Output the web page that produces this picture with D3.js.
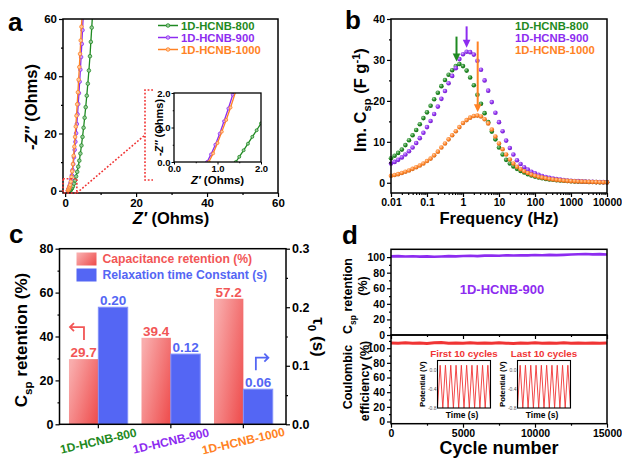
<!DOCTYPE html>
<html>
<head>
<meta charset="utf-8">
<script src="https://cdnjs.cloudflare.com/ajax/libs/d3/7.8.5/d3.min.js"></script>
<style>
    html, body { margin: 0; padding: 0; background: #fff; }
    svg { display: block; }
</style>
</head>
<body>
<svg id="fig" width="622" height="462"></svg>
<script>
    "use strict";
    var FONT = '"Liberation Sans", Arial, Helvetica, sans-serif';

    // ---------- data ----------
    var samples = ["1D-HCNB-800", "1D-HCNB-900", "1D-HCNB-1000"];
    var sampleColors = ["#1f8a22", "#8d2cf0", "#ff8224"];

    // (a) Nyquist: [Z', -Z'']
    var nyq800 = [[1.42, 0], [1.5, 0.15], [1.6, 0.34], [1.7, 0.53], [1.8, 0.73], [1.9, 0.92], [2.0, 1.12], [2.2, 1.6],
        [2.5, 2.5], [2.8, 3.6], [3.1, 5.0], [3.4, 6.6], [3.7, 8.4], [4.0, 10.5], [4.3, 13.0], [4.6, 15.8], [4.9, 18.8],
        [5.2, 22.0], [5.5, 25.5], [5.8, 29.2], [6.1, 33.2], [6.4, 37.4], [6.7, 42.0], [7.0, 47.0], [7.25, 52.0],
        [7.5, 57.0], [7.75, 62.0]];
    var nyq900 = [[0.76, 0], [0.85, 0.22], [0.95, 0.5], [1.05, 0.82], [1.15, 1.18], [1.25, 1.55], [1.35, 1.95], [1.5, 2.7],
        [1.7, 3.9], [1.9, 5.4], [2.1, 7.2], [2.3, 9.3], [2.5, 11.7], [2.7, 14.3], [2.9, 17.1], [3.1, 20.1], [3.3, 23.3],
        [3.5, 26.7], [3.7, 30.3], [3.9, 34.1], [4.1, 38.1], [4.3, 42.3], [4.5, 46.7], [4.7, 51.3], [4.9, 56.1], [5.1, 61.0]];
    var nyq1000 = [[0.8, 0], [0.9, 0.25], [1.0, 0.55], [1.1, 0.88], [1.2, 1.22], [1.3, 1.58], [1.42, 2.05], [1.6, 3.2],
        [1.8, 4.8], [2.0, 6.8], [2.2, 9.3], [2.4, 12.2], [2.6, 15.4], [2.8, 18.8], [3.0, 22.4], [3.2, 26.2], [3.4, 30.2],
        [3.6, 34.4], [3.8, 38.8], [4.0, 43.2], [4.2, 47.8], [4.4, 52.5], [4.6, 57.3], [4.8, 62.0]];

    // (b) imaginary capacitance vs frequency
    var freq = [0.01, 0.0126, 0.0158, 0.02, 0.0251, 0.0316, 0.0398, 0.0501, 0.0631, 0.0794,
        0.1, 0.126, 0.158, 0.2, 0.251, 0.316, 0.398, 0.501, 0.631, 0.794,
        1, 1.26, 1.58, 2, 2.51, 3.16, 3.98, 5.01, 6.31, 7.94,
        10, 12.6, 15.8, 20, 25.1, 31.6, 39.8, 50.1, 63.1, 79.4,
        100, 126, 158, 200, 251, 316, 398, 501, 631, 794,
        1000, 1260, 1580, 2000, 2510, 3160, 3980, 5010, 6310, 7940, 10000];
    var imC800 = [6.0, 6.6, 7.3, 8.1, 9.2, 10.4, 11.6, 12.9, 14.3, 15.8,
        17.2, 18.8, 20.4, 22.0, 23.6, 25.1, 26.4, 27.5, 28.5, 29.0,
        28.5, 27.4, 25.7, 23.8, 21.5, 19.3, 17.0, 14.8, 12.5, 10.6,
        8.6, 6.9, 5.6, 4.7, 4.0, 3.4, 2.9, 2.5, 2.1, 1.8,
        1.5, 1.3, 1.1, 0.95, 0.82, 0.72, 0.63, 0.55, 0.48, 0.42,
        0.37, 0.33, 0.29, 0.26, 0.23, 0.2, 0.18, 0.16, 0.14, 0.12, 0.1];
    var imC900 = [4.7, 5.1, 5.6, 6.2, 6.9, 7.7, 8.6, 9.7, 10.9, 12.2,
        13.6, 15.1, 16.8, 18.6, 20.5, 22.4, 24.3, 26.1, 28.0, 30.2,
        31.4, 32.0, 31.9, 31.3, 29.8, 27.6, 25.0, 22.5, 19.7, 17.1,
        14.8, 12.6, 10.3, 8.5, 6.9, 5.5, 4.6, 3.8, 3.2, 2.7,
        2.3, 1.95, 1.65, 1.4, 1.2, 1.02, 0.88, 0.76, 0.66, 0.57,
        0.5, 0.44, 0.39, 0.34, 0.3, 0.26, 0.23, 0.2, 0.17, 0.15, 0.12];
    var imC1000 = [1.7, 1.9, 2.1, 2.4, 2.7, 3.0, 3.4, 3.8, 4.2, 4.7,
        5.3, 5.9, 6.7, 7.6, 8.6, 9.6, 10.6, 11.6, 12.6, 13.6,
        14.6, 15.3, 15.9, 16.3, 16.4, 16.2, 15.5, 14.5, 13.0, 11.3,
        9.6, 8.2, 6.9, 5.7, 4.7, 3.9, 3.3, 2.8, 2.4, 2.0,
        1.7, 1.45, 1.25, 1.08, 0.93, 0.8, 0.7, 0.61, 0.53, 0.46,
        0.4, 0.35, 0.31, 0.27, 0.24, 0.21, 0.18, 0.16, 0.14, 0.12, 0.1];
    // arrows marking the peaks: frequency, tail value, tip value
    var peakFreq = [0.66, 1.26, 2.56];
    var arrowTail = [35.7, 38.2, 34.5];
    var arrowTip = [29.6, 33.0, 17.2];

    // (c) bars
    var retention = [29.7, 39.4, 57.2];
    var relaxTime = [0.20, 0.12, 0.06];

    // (d) cycling of 1D-HCNB-900
    var cycles = [0, 500, 1000, 1500, 2000, 2500, 3000, 3500, 4000, 4500, 5000, 5500, 6000, 6500, 7000, 7500,
        8000, 8500, 9000, 9500, 10000, 10500, 11000, 11500, 12000, 12500, 13000, 13500, 14000, 14500, 15000];
    var cspRetention = [100.9, 101.3, 100.8, 101.1, 100.6, 100.9, 100.5, 100.8, 101.2, 100.9, 101.4, 101.7, 101.3,
        101.9, 102.1, 101.8, 102.3, 102.0, 102.4, 102.2, 102.6, 102.3, 102.8, 102.5, 102.9, 103.3, 103.6, 103.9,
        103.5, 103.8, 103.4];
    var coulombic = [107.2, 106.6, 107.4, 106.8, 107.1, 106.5, 107.3, 107.8, 106.9, 107.2, 106.7, 107.4, 106.9,
        107.1, 106.6, 107.3, 106.8, 106.4, 107.2, 106.9, 107.3, 106.7, 107.1, 106.8, 107.4, 106.9, 107.2, 106.6,
        107.0, 106.8, 107.1];
    // galvanostatic insets: time (cycle units) vs potential (V)
    var cvTime = [0, 0.5, 1, 1.5, 2, 2.5, 3, 3.5, 4, 4.5, 5, 5.5, 6, 6.5, 7, 7.5, 8, 8.5, 9, 9.5, 10];
    var cvPotential = [-0.8, 0.1, -0.8, 0.1, -0.8, 0.1, -0.8, 0.1, -0.8, 0.1, -0.8, 0.1, -0.8, 0.1, -0.8, 0.1,
        -0.8, 0.1, -0.8, 0.1, -0.8];

    // ---------- helpers ----------
    var svg = d3.select("#fig").attr("font-family", FONT).attr("font-weight", "bold");
    svg.append("rect").attr("width", 622).attr("height", 462).attr("fill", "#fff");
    var defs = svg.append("defs");

    function box(g, x0, y0, x1, y1, w, fill) {
        g.append("rect").attr("x", x0).attr("y", y0).attr("width", x1 - x0).attr("height", y1 - y0)
            .attr("fill", fill || "none").attr("stroke", "#000").attr("stroke-width", w || 1.5);
    }

    function clip(id, x0, y0, x1, y1) {
        defs.append("clipPath").attr("id", id).append("rect")
            .attr("x", x0).attr("y", y0).attr("width", x1 - x0).attr("height", y1 - y0);
    }

    // major ticks with labels + short minor ticks
    function axis(g, orient, scale, pos, major, minor, opt) {
        var make = {bottom: d3.axisBottom, left: d3.axisLeft, right: d3.axisRight}[orient];
        var tr = orient === "bottom" ? "translate(0," + pos + ")" : "translate(" + pos + ",0)";
        var size = opt.size || 4;
        var a = make(scale).tickSize(size).tickPadding(opt.pad || 2);
        if (major) a.tickValues(major);
        if (opt.fmt !== undefined) a.tickFormat(opt.fmt);
        var ga = g.append("g").attr("transform", tr).call(a)
            .attr("font-size", opt.font || 11).attr("font-family", FONT).attr("font-weight", "bold");
        ga.select(".domain").remove();
        ga.selectAll("line").attr("stroke", "#000").attr("stroke-width", opt.tw || 1.2);
        if (minor) {
            var gm = g.append("g").attr("transform", tr)
                .call(make(scale).tickValues(minor).tickSize(size / 2).tickFormat(""));
            gm.select(".domain").remove();
            gm.selectAll("line").attr("stroke", "#000").attr("stroke-width", opt.tw || 1.2);
        }
        return ga;
    }

    function letter(t, x, y) {
        svg.append("text").attr("x", x).attr("y", y).attr("font-size", 26).text(t);
    }

    // text with sub/superscript parts: parts = [[text, "sub"|"sup"|null, italic], ...]
    function richText(g, parts, size) {
        var t = g.append("text").attr("font-size", size).attr("text-anchor", "middle");
        var shift = 0;
        parts.forEach(function (p) {
            var s = t.append("tspan").text(p[0]);
            var want = p[1] === "sub" ? size * 0.3 : p[1] === "sup" ? -size * 0.38 : 0;
            s.attr("dy", want - shift);
            shift = want;
            if (p[1]) s.attr("font-size", size * 0.68);
            if (p[2]) s.attr("font-style", "italic");
        });
        return t;
    }

    // ---------- panel a : Nyquist ----------
    var gA = svg.append("g");
    var xA = d3.scaleLinear().domain([-0.6, 60]).range([63, 278]);
    var yA = d3.scaleLinear().domain([-0.8, 60]).range([193, 19]);
    clip("clipA", 63, 19, 278, 193);
    var nyqSeries = [nyq800, nyq900, nyq1000];

    function drawNyq(g, pts, col, xs, ys, clipId, r) {
        var gg = g.append("g").attr("clip-path", "url(#" + clipId + ")");
        gg.append("path").datum(pts)
            .attr("d", d3.line().x(function (d) { return xs(d[0]); }).y(function (d) { return ys(d[1]); }))
            .attr("fill", "none").attr("stroke", col).attr("stroke-width", 1.3);
        gg.selectAll("circle").data(pts).enter().append("circle")
            .attr("cx", function (d) { return xs(d[0]); })
            .attr("cy", function (d) { return ys(d[1]); })
            .attr("r", r).attr("fill", d3.interpolateRgb(col, "#fff")(0.55))
            .attr("stroke", col).attr("stroke-width", 0.8);
    }

    nyqSeries.forEach(function (pts, i) { drawNyq(gA, pts, sampleColors[i], xA, yA, "clipA", 1.8); });
    axis(gA, "bottom", xA, 193, [0, 20, 40, 60], [10, 30, 50], {font: 11.5, pad: 2});
    axis(gA, "left", yA, 63, [0, 20, 40, 60], [10, 30, 50], {font: 11.5, pad: 2});
    box(gA, 63, 19, 278, 193);

    // zoom box and connector
    var insA = {l: 174, r: 261, t: 93, b: 162};
    var zoomBox = [[-0.6, 3.3], [-0.8, 4.2]];
    var red = "#f03434";
    var brX = insA.l - 29, brT = insA.t - 3, brB = insA.b + 18;
    gA.append("rect").attr("x", xA(zoomBox[0][0])).attr("y", yA(zoomBox[1][1]))
        .attr("width", xA(zoomBox[0][1]) - xA(zoomBox[0][0])).attr("height", yA(zoomBox[1][0]) - yA(zoomBox[1][1]))
        .attr("fill", "none").attr("stroke", red).attr("stroke-width", 1.6).attr("stroke-dasharray", "1.8,1.8");
    gA.append("path")
        .attr("d", "M" + xA(zoomBox[0][1]) + "," + yA(zoomBox[1][0]) + "L" + brX + "," + (brT + brB) / 2 +
            "M" + (brX + 8) + "," + brT + "H" + brX + "V" + brB + "H" + (brX + 8))
        .attr("fill", "none").attr("stroke", red).attr("stroke-width", 1.6).attr("stroke-dasharray", "1.8,1.8");

    // inset
    var xI = d3.scaleLinear().domain([0, 2]).range([insA.l, insA.r]);
    var yI = d3.scaleLinear().domain([0, 2]).range([insA.b, insA.t]);
    gA.append("rect").attr("x", insA.l).attr("y", insA.t).attr("width", insA.r - insA.l)
        .attr("height", insA.b - insA.t).attr("fill", "#fff");
    clip("clipI", insA.l, insA.t, insA.r, insA.b);
    nyqSeries.forEach(function (pts, i) { drawNyq(gA, pts, sampleColors[i], xI, yI, "clipI", 1.5); });
    axis(gA, "bottom", xI, insA.b, [0, 1, 2], [0.5, 1.5], {font: 9.5, size: 2.5, pad: 1, tw: 1});
    axis(gA, "left", yI, insA.l, [0, 1, 2], [0.5, 1.5], {font: 9.5, size: 2.5, pad: 1, tw: 1});
    box(gA, insA.l, insA.t, insA.r, insA.b, 1.3);
    richText(gA, [["-Z\u2033", null, true], [" (Ohms)", null]], 11)
        .attr("transform", "translate(163," + (insA.t + insA.b) / 2 + ") rotate(-90)");
    richText(gA, [["Z\u2032", null, true], [" (Ohms)", null]], 11.5)
        .attr("transform", "translate(" + (insA.l + insA.r) / 2 + ",184)");

    richText(gA, [["-Z\u2033", null, true], [" (Ohms)", null]], 16.5)
        .attr("transform", "translate(37,107) rotate(-90)");
    richText(gA, [["Z\u2032", null, true], [" (Ohms)", null]], 16.5)
        .attr("transform", "translate(171,224)");

    // legend a
    samples.forEach(function (s, i) {
        var y = 25.5 + i * 12;
        gA.append("line").attr("x1", 158).attr("x2", 178).attr("y1", y).attr("y2", y)
            .attr("stroke", sampleColors[i]).attr("stroke-width", 1.5);
        gA.append("circle").attr("cx", 168).attr("cy", y).attr("r", 1.8)
            .attr("fill", d3.interpolateRgb(sampleColors[i], "#fff")(0.55))
            .attr("stroke", sampleColors[i]).attr("stroke-width", 0.8);
        gA.append("text").attr("x", 181).attr("y", y + 4).attr("font-size", 11.3)
            .attr("fill", sampleColors[i]).text(s);
    });
    letter("a", 8, 31);

    // ---------- panel b : Im C vs frequency ----------
    var gB = svg.append("g");
    var xB = d3.scaleLog().domain([0.01, 10000]).range([391, 607]);
    var yB = d3.scaleLinear().domain([-2.5, 40]).range([193, 19]);
    var imSeries = [imC800, imC900, imC1000];

    sampleColors.forEach(function (c, i) {
        var gr = defs.append("radialGradient").attr("id", "ball" + i)
            .attr("cx", 0.38).attr("cy", 0.35).attr("r", 0.7);
        gr.append("stop").attr("offset", 0).attr("stop-color", d3.interpolateRgb(c, "#fff")(0.6));
        gr.append("stop").attr("offset", 0.55).attr("stop-color", c);
        gr.append("stop").attr("offset", 1).attr("stop-color", d3.color(c).darker(0.7));
    });

    imSeries.forEach(function (vals, i) {
        gB.append("g").selectAll("circle").data(vals).enter().append("circle")
            .attr("cx", function (d, k) { return xB(freq[k]); })
            .attr("cy", function (d) { return yB(d); })
            .attr("r", 2.3).attr("fill", "url(#ball" + i + ")");
    });

    var decades = [0.01, 0.1, 1, 10, 100, 1000, 10000];
    var minorB = [];
    decades.slice(0, -1).forEach(function (d) {
        for (var m = 2; m < 10; m++) minorB.push(d * m);
    });
    axis(gB, "bottom", xB, 193, decades, minorB, {font: 10.5, fmt: d3.format("~g"), pad: 2});
    axis(gB, "left", yB, 391, [0, 10, 20, 30, 40], [5, 15, 25, 35], {font: 10.5, pad: 2});
    box(gB, 391, 19, 607, 193);

    // peak arrows
    peakFreq.forEach(function (f, i) {
        var x = xB(f), y0 = yB(arrowTail[i]), y1 = yB(arrowTip[i]);
        gB.append("line").attr("x1", x).attr("x2", x).attr("y1", y0).attr("y2", y1 - 6)
            .attr("stroke", sampleColors[i]).attr("stroke-width", 2);
        gB.append("path").attr("d", "M" + (x - 3.8) + "," + (y1 - 8) + "L" + (x + 3.8) + "," + (y1 - 8) +
            "L" + x + "," + y1 + "Z").attr("fill", sampleColors[i]);
    });

    samples.forEach(function (s, i) {
        gB.append("text").attr("x", 515).attr("y", 29.5 + i * 12).attr("font-size", 11.3)
            .attr("fill", sampleColors[i]).text(s);
    });
    richText(gB, [["Im. C", null], ["sp", "sub"], [" (F g", null], ["-1", "sup"], [")", null]], 16.5)
        .attr("transform", "translate(366,100) rotate(-90)");
    gB.append("text").attr("x", 499).attr("y", 224).attr("text-anchor", "middle")
        .attr("font-size", 16.5).text("Frequency (Hz)");
    letter("b", 345, 29);

    // ---------- panel c : bars ----------
    var gC = svg.append("g");
    var cL = 59.5, cR = 286, cT = 248.7, cB = 424.3;
    var xC = d3.scaleBand().domain(samples).range([58.1, 283.6]).paddingInner(0.19).paddingOuter(0.15);
    var yL = d3.scaleLinear().domain([0, 80]).range([cB, cT]);
    var yR = d3.scaleLinear().domain([0, 0.3]).range([cB, cT]);
    var half = xC.bandwidth() / 2;
    var redC = "#f25656", blueC = "#5466f4";

    var rg = defs.append("linearGradient").attr("id", "redBar").attr("x1", 0).attr("y1", 0.2).attr("x2", 1).attr("y2", 0.8);
    rg.append("stop").attr("offset", 0).attr("stop-color", "#f9acac");
    rg.append("stop").attr("offset", 1).attr("stop-color", "#ef5252");

    gC.selectAll("rect.ret").data(retention).enter().append("rect").attr("class", "ret")
        .attr("x", function (d, i) { return xC(samples[i]); })
        .attr("y", function (d) { return yL(d); })
        .attr("width", half).attr("height", function (d) { return cB - yL(d); })
        .attr("fill", "url(#redBar)");
    gC.selectAll("rect.tau").data(relaxTime).enter().append("rect").attr("class", "tau")
        .attr("x", function (d, i) { return xC(samples[i]) + half; })
        .attr("y", function (d) { return yR(d); })
        .attr("width", half).attr("height", function (d) { return cB - yR(d); })
        .attr("fill", blueC).attr("stroke", "#8391fa").attr("stroke-width", 1);

    gC.selectAll("text.retv").data(retention).enter().append("text").attr("class", "retv")
        .attr("x", function (d, i) { return xC(samples[i]) + half / 2; })
        .attr("y", function (d) { return yL(d) - 2; })
        .attr("text-anchor", "middle").attr("font-size", 13.5).attr("fill", redC)
        .text(function (d) { return d.toFixed(1); });
    gC.selectAll("text.tauv").data(relaxTime).enter().append("text").attr("class", "tauv")
        .attr("x", function (d, i) { return xC(samples[i]) + half * 1.5; })
        .attr("y", function (d) { return yR(d) - 2; })
        .attr("text-anchor", "middle").attr("font-size", 13.5).attr("fill", blueC)
        .text(function (d) { return d.toFixed(2); });

    axis(gC, "left", yL, cL, [0, 20, 40, 60, 80], [10, 30, 50, 70], {font: 12.5, pad: 2});
    axis(gC, "right", yR, cR, [0, 0.1, 0.2, 0.3], [0.05, 0.15, 0.25], {font: 12.5, pad: 2, fmt: d3.format(".1f")});
    axis(gC, "bottom", xC, cB, null, null, {fmt: ""});
    box(gC, cL, cT, cR, cB);

    // axis pointers
    var r0x = xC(samples[0]), r0y = yL(retention[0]);
    gC.append("path").attr("d", "M" + (r0x + 15) + "," + (r0y - 19) + "V" + (r0y - 32) + "H" + (r0x + 1) +
        "M" + (r0x + 5) + "," + (r0y - 36) + "L" + (r0x + 1) + "," + (r0y - 32) + "L" + (r0x + 5) + "," + (r0y - 28))
        .attr("fill", "none").attr("stroke", redC).attr("stroke-width", 1.8);
    var b2x = xC(samples[2]) + half, b2y = yR(relaxTime[2]);
    gC.append("path").attr("d", "M" + (b2x + 12.5) + "," + (b2y - 19) + "V" + (b2y - 31.5) + "H" + (b2x + 25) +
        "M" + (b2x + 21) + "," + (b2y - 35.5) + "L" + (b2x + 25) + "," + (b2y - 31.5) + "L" + (b2x + 21) + "," + (b2y - 27.5))
        .attr("fill", "none").attr("stroke", blueC).attr("stroke-width", 1.8);

    // legend c
    gC.append("rect").attr("x", 76.5).attr("y", 252.5).attr("width", 20).attr("height", 13).attr("fill", "url(#redBar)");
    gC.append("rect").attr("x", 76.5).attr("y", 268.5).attr("width", 20).attr("height", 13).attr("fill", blueC);
    gC.append("text").attr("x", 102.5).attr("y", 263).attr("font-size", 12.2).attr("fill", redC)
        .text("Capacitance retention (%)");
    gC.append("text").attr("x", 102.5).attr("y", 279).attr("font-size", 12.2).attr("fill", blueC)
        .text("Relaxation time Constant (s)");

    samples.forEach(function (s, i) {
        var cx = xC(s) + half + 1;
        gC.append("text").attr("transform", "translate(" + cx + ",445) rotate(-13)")
            .attr("text-anchor", "middle").attr("font-size", 12).attr("fill", sampleColors[i]).text(s);
    });
    richText(gC, [["C", null], ["sp", "sub"], [" retention (%)", null]], 17)
        .attr("transform", "translate(27,340) rotate(-90)");
    richText(gC, [["\u03c4", null], ["0", "sub"], [" (s)", null]], 17)
        .attr("transform", "translate(313,337) rotate(90)");
    letter("c", 9, 243);

    // ---------- panel d : cycling ----------
    var gD = svg.append("g");
    var dL = 391, dR = 607, dT = 249.3, dM = 335, dB = 423.7;
    var xD = d3.scaleLinear().domain([0, 15000]).range([dL, dR]);
    var yD1 = d3.scaleLinear().domain([0, 110]).range([dM, dT]);
    var yD2 = d3.scaleLinear().domain([-3, 118]).range([dB, dM]);
    var purple = sampleColors[1];

    gD.append("path").datum(cspRetention)
        .attr("d", d3.line().x(function (d, i) { return xD(cycles[i]); }).y(function (d) { return yD1(d); }))
        .attr("fill", "none").attr("stroke", purple).attr("stroke-width", 2.6);
    gD.append("path").datum(coulombic)
        .attr("d", d3.line().x(function (d, i) { return xD(cycles[i]); }).y(function (d) { return yD2(d); }))
        .attr("fill", "none").attr("stroke", red).attr("stroke-width", 3);

    axis(gD, "left", yD1, dL, [0, 20, 40, 60, 80, 100], [10, 30, 50, 70, 90], {font: 10.5, pad: 2});
    axis(gD, "left", yD2, dL, [0, 20, 40, 60, 80, 100], [10, 30, 50, 70, 90, 110], {font: 10.5, pad: 2});
    axis(gD, "bottom", xD, dM, [0, 5000, 10000, 15000], [2500, 7500, 12500], {fmt: ""});
    axis(gD, "bottom", xD, dB, [0, 5000, 10000, 15000], [2500, 7500, 12500], {font: 10.5, pad: 2, fmt: d3.format("d")});
    box(gD, dL, dT, dR, dM);
    box(gD, dL, dM, dR, dB);

    gD.append("text").attr("x", 502).attr("y", 294).attr("text-anchor", "middle")
        .attr("font-size", 13).attr("fill", purple).text("1D-HCNB-900");

    // potential-time insets
    var insets = [{l: 437.5, title: "First 10 cycles"}, {l: 517.5, title: "Last 10 cycles"}];
    insets.forEach(function (ins) {
        var r = ins.l + 53, t = 360.5, b = 408;
        var xs = d3.scaleLinear().domain([0, 10]).range([ins.l, r]);
        var ys = d3.scaleLinear().domain([-0.8, 0.2]).range([b, t]);
        gD.append("rect").attr("x", ins.l).attr("y", t).attr("width", r - ins.l).attr("height", b - t)
            .attr("fill", "#fff");
        gD.append("path").datum(cvPotential)
            .attr("d", d3.line().x(function (d, i) { return xs(cvTime[i]); }).y(function (d) { return ys(d); }))
            .attr("fill", "none").attr("stroke", red).attr("stroke-width", 0.9);
        box(gD, ins.l, t, r, b, 1.1);
        [0, -0.4, -0.8].forEach(function (v) {
            gD.append("text").attr("x", ins.l - 1).attr("y", ys(v) + 1.8).attr("text-anchor", "end")
                .attr("font-size", 5).attr("font-weight", "normal").attr("fill", "#555").text(v.toFixed(1));
        });
        gD.append("text").attr("x", (ins.l + r) / 2).attr("y", t - 4).attr("text-anchor", "middle")
            .attr("font-size", 9.8).attr("fill", red).text(ins.title);
        gD.append("text").attr("x", (ins.l + r) / 2 - 2).attr("y", b + 10).attr("text-anchor", "middle")
            .attr("font-size", 8.5).text("Time (s)");
        gD.append("text").attr("transform", "translate(" + (ins.l - 13) + "," + (t + b) / 2 + ") rotate(-90)")
            .attr("text-anchor", "middle").attr("font-size", 7.8).text("Potential (V)");
    });

    richText(gD, [["C", null], ["sp", "sub"], [" retention", null]], 12.5)
        .attr("transform", "translate(352,296) rotate(-90)");
    richText(gD, [["(%)", null]], 12.5).attr("transform", "translate(367,286) rotate(-90)");
    richText(gD, [["Coulombic", null]], 12.5).attr("transform", "translate(352,377) rotate(-90)");
    richText(gD, [["efficiency (%)", null]], 12.5).attr("transform", "translate(369,381) rotate(-90)");
    gD.append("text").attr("x", 499).attr("y", 454).attr("text-anchor", "middle")
        .attr("font-size", 18).text("Cycle number");
    letter("d", 342, 244);
</script>
</body>
</html>
